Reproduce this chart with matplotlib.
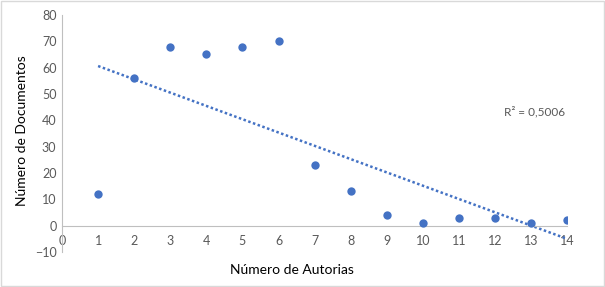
import matplotlib

matplotlib.use("Agg")
import matplotlib.pyplot as plt
import numpy as np
from matplotlib.patches import Rectangle

autorias = [1, 2, 3, 4, 5, 6, 7, 8, 9, 10, 11, 12, 13, 14]
documentos = [12, 56, 68, 65, 68, 70, 23, 13, 4, 1, 3, 3, 1, 2]
x_ticks = list(range(0, 15))
y_ticks = list(range(-10, 81, 10))

blue = "#4472C4"
grey = "#595959"
plt.rcParams["font.family"] = ["Lato", "DejaVu Sans"]

fig = plt.figure(figsize=(6.05, 2.87), dpi=100)
ax = fig.add_axes([0.1025, 0.122, 0.835, 0.826])

x = np.array(autorias, dtype=float)
y = np.array(documentos, dtype=float)
slope, intercept = np.polyfit(x, y, 1)
fit = slope * x + intercept
r2 = 1 - ((y - fit) ** 2).sum() / ((y - y.mean()) ** 2).sum()

ax.plot([x.min(), x.max()], [slope * x.min() + intercept, slope * x.max() + intercept],
        color=blue, linestyle=(0, (1, 1)), linewidth=1.8, zorder=2)
ax.scatter(x, y, s=36, color=blue, zorder=3, linewidths=0)

ax.set_xlim(0, 14)
ax.set_ylim(-10, 80)
ax.set_xticks(x_ticks)
ax.set_yticks(y_ticks)
ax.tick_params(length=0, labelsize=9, colors=grey, pad=4)
ax.tick_params(axis="x", pad=7)

for s in ("top", "right"):
    ax.spines[s].set_visible(False)
ax.spines["left"].set_position(("data", 0))
ax.spines["bottom"].set_position(("data", 0))
ax.spines["left"].set_color("#BFBFBF")
ax.spines["bottom"].set_color("#BFBFBF")

ax.text(12.25, 42, f"R² = {r2:.4f}".replace(".", ","), fontsize=8.5, color=grey)

fig.text(0.483, 0.058, "Número de Autorias", ha="center", va="center", fontsize=10, color="black")
fig.text(0.037, 0.545, "Número de Documentos", ha="center", va="center", rotation=90,
         fontsize=10, color="black")

fig.patches.append(Rectangle((0.001, 0.002), 0.997, 0.995, transform=fig.transFigure,
                             fill=False, edgecolor="#D9D9D9", linewidth=1))

fig.savefig("out.png", dpi=100)
